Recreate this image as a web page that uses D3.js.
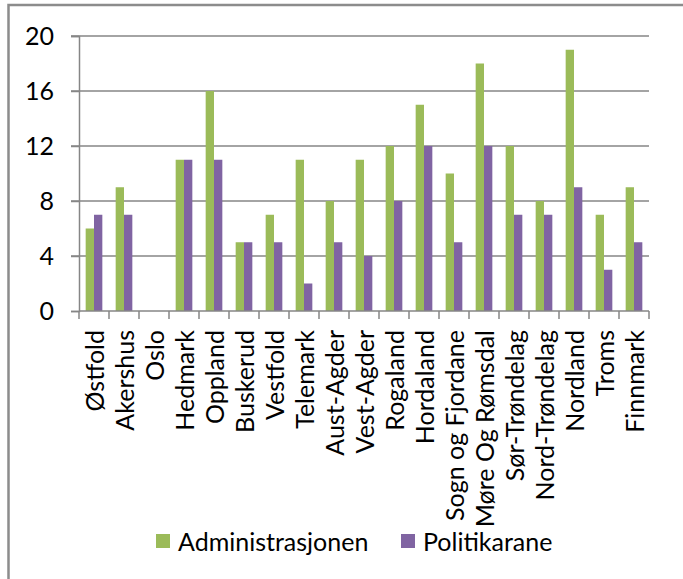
<!DOCTYPE html>
<html>
<head>
<meta charset="utf-8">
<script src="https://cdn.jsdelivr.net/npm/d3@7"></script>
<style>
  body { margin: 0; background: #fff; }
  svg text { font-family: Lato, "Open Sans", sans-serif; fill: #000; }
</style>
</head>
<body>
<svg id="chart"></svg>
<script>
// data
let fylke = ['Østfold', 'Akershus', 'Oslo', 'Hedmark', 'Oppland', 'Buskerud', 'Vestfold', 'Telemark',
  'Aust-Agder', 'Vest-Agder', 'Rogaland', 'Hordaland', 'Sogn og Fjordane', 'Møre Og Rømsdal',
  'Sør-Trøndelag', 'Nord-Trøndelag', 'Nordland', 'Troms', 'Finnmark']
let administrasjonen = [6, 9, 0, 11, 16, 5, 7, 11, 8, 11, 12, 15, 10, 18, 12, 8, 19, 7, 9]
let politikarane = [7, 7, 0, 11, 11, 5, 5, 2, 5, 4, 8, 12, 5, 12, 7, 7, 9, 3, 5]
let seriesNames = ['Administrasjonen', 'Politikarane']
let yTicks = [0, 4, 8, 12, 16, 20]

let colors = ['#9bbb59', '#8064a2']
let W = 683, H = 579
let mLeft = 79, mRight = 649, mTop = 36, mBottom = 311
let fs = 25

let svg = d3.select('#chart').attr('width', W).attr('height', H)

// outer frame (cut off at right/bottom)
svg.append('rect').attr('x', 8.5).attr('y', 5).attr('width', 720).attr('height', 620)
  .attr('fill', 'none').attr('stroke', '#8c8c8c').attr('stroke-width', 2.5)

let x = d3.scaleBand().domain(fylke).range([mLeft, mRight])
let xs = d3.scaleBand().domain(seriesNames).range([0, x.bandwidth()]).paddingOuter(0.8)
let y = d3.scaleLinear().domain([0, 20]).range([mBottom, mTop])

// gridlines
svg.append('g').selectAll('line').data(yTicks.filter(d => d > 0)).enter().append('line')
  .attr('x1', mLeft - 8).attr('x2', mRight)
  .attr('y1', d => y(d)).attr('y2', d => y(d))
  .attr('stroke', '#868686').attr('stroke-width', 1.5)

// y axis
let yAxis = svg.append('g').attr('transform', `translate(${mLeft},0)`)
  .call(d3.axisLeft(y).tickValues(yTicks).tickSize(8).tickPadding(17))
yAxis.select('.domain').attr('stroke', '#868686').attr('stroke-width', 1.5)
yAxis.selectAll('.tick line').attr('stroke', '#868686').attr('stroke-width', 1.5)
yAxis.selectAll('text').attr('font-size', fs).attr('font-family', null)

// bars
let rows = fylke.map((f, i) => ({ f, vals: [administrasjonen[i], politikarane[i]] }))
let grp = svg.append('g').selectAll('g').data(rows).enter().append('g')
  .attr('transform', d => `translate(${x(d.f)},0)`)
grp.selectAll('rect').data(d => d.vals.map((v, j) => ({ v, s: seriesNames[j], j })))
  .enter().append('rect')
  .attr('x', d => xs(d.s))
  .attr('width', xs.bandwidth())
  .attr('y', d => y(d.v))
  .attr('height', d => mBottom - y(d.v))
  .attr('fill', d => colors[d.j])

// x axis
let xAxisG = svg.append('g').attr('transform', `translate(0,${mBottom})`)
xAxisG.append('line').attr('x1', mLeft).attr('x2', mRight)
  .attr('stroke', '#868686').attr('stroke-width', 1.5)
xAxisG.selectAll('.xt').data(d3.range(fylke.length + 1)).enter().append('line')
  .attr('x1', i => mLeft + i * x.step()).attr('x2', i => mLeft + i * x.step())
  .attr('y1', 0).attr('y2', 8)
  .attr('stroke', '#868686').attr('stroke-width', 1.5)
xAxisG.selectAll('text').data(fylke).enter().append('text')
  .attr('transform', d => `translate(${x(d) + x.bandwidth() / 2},19) rotate(-90)`)
  .attr('text-anchor', 'end')
  .attr('dominant-baseline', 'central')
  .attr('font-size', fs)
  .text(d => d)

// legend
let legendX = [156, 401]
let lg = svg.append('g').selectAll('g').data(seriesNames).enter().append('g')
  .attr('transform', (d, i) => `translate(${legendX[i]},534)`)
lg.append('rect').attr('width', 14).attr('height', 14).attr('fill', (d, i) => colors[i])
lg.append('text').attr('x', 22).attr('y', 7).attr('dominant-baseline', 'central')
  .attr('font-size', fs).text(d => d)
</script>
</body>
</html>
